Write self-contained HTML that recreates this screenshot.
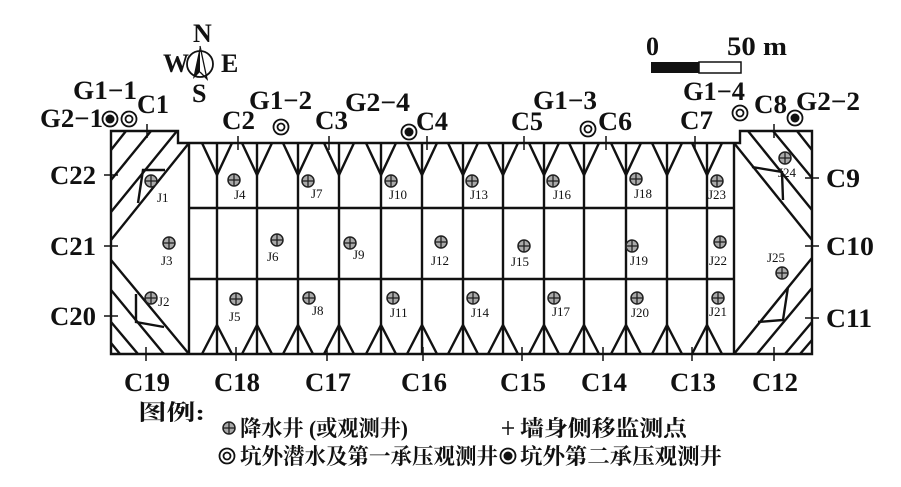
<!DOCTYPE html>
<html><head><meta charset="utf-8"><style>
html,body{margin:0;padding:0;background:#fff;}
svg{display:block;}
.t{font-family:"Liberation Serif",serif;font-weight:bold;font-size:26px;fill:#111;}
.j{font-family:"Liberation Serif",serif;font-size:13px;fill:#111;}
.cn{font-family:"Liberation Serif","Noto Serif CJK SC",serif;font-size:22px;font-weight:bold;fill:#111;}
</style></head><body>
<svg width="901" height="487" viewBox="0 0 901 487" xmlns="http://www.w3.org/2000/svg">
<defs>
<g id="jw"><circle r="6" fill="#aaa" stroke="#222" stroke-width="1.5"/><line x1="-6" y1="0" x2="6" y2="0" stroke="#222" stroke-width="1.3"/><line x1="0" y1="-6" x2="0" y2="6" stroke="#222" stroke-width="1.3"/></g>
<g id="g1"><circle r="7.5" fill="#fff" stroke="#111" stroke-width="1.8"/><circle r="3.5" fill="#fff" stroke="#111" stroke-width="1.8"/></g>
<g id="g2"><circle r="7.5" fill="#fff" stroke="#111" stroke-width="1.8"/><circle r="4.5" fill="#111"/></g>
<g id="ch"><line x1="-4" y1="0" x2="4" y2="0" stroke="#111" stroke-width="1.5"/><line x1="0" y1="-7" x2="0" y2="7" stroke="#111" stroke-width="1.5"/></g>
<g id="cv"><line x1="-7" y1="0" x2="7" y2="0" stroke="#111" stroke-width="1.5"/><line x1="0" y1="-4" x2="0" y2="4" stroke="#111" stroke-width="1.5"/></g>
</defs>
<g stroke="#111" stroke-width="2.4" fill="none">
<path d="M111,131 H178 V143 H740 V131 H812 V354 H111 Z"/>
<line x1="189" y1="143" x2="189" y2="354"/>
<line x1="734" y1="143" x2="734" y2="354"/>
<line x1="189" y1="208" x2="734" y2="208"/>
<line x1="189" y1="279" x2="734" y2="279"/>
<g>
<line x1="217" y1="143" x2="217" y2="354"/><line x1="257" y1="143" x2="257" y2="354"/>
<line x1="298" y1="143" x2="298" y2="354"/><line x1="339" y1="143" x2="339" y2="354"/>
<line x1="381" y1="143" x2="381" y2="354"/><line x1="422" y1="143" x2="422" y2="354"/>
<line x1="463" y1="143" x2="463" y2="354"/><line x1="503" y1="143" x2="503" y2="354"/>
<line x1="544" y1="143" x2="544" y2="354"/><line x1="584" y1="143" x2="584" y2="354"/>
<line x1="626" y1="143" x2="626" y2="354"/><line x1="667" y1="143" x2="667" y2="354"/>
<line x1="707" y1="143" x2="707" y2="354"/>
</g>
<path d="M202,143 L217,175 L232,143 M242,143 L257,175 L272,143 M283,143 L298,175 L313,143 M324,143 L339,175 L354,143 M366,143 L381,175 L396,143 M407,143 L422,175 L437,143 M448,143 L463,175 L478,143 M488,143 L503,175 L518,143 M529,143 L544,175 L559,143 M569,143 L584,175 L599,143 M611,143 L626,175 L641,143 M652,143 L667,175 L682,143 M692,143 L707,175 L722,143"/>
<path d="M202,354 L217,325 L232,354 M242,354 L257,325 L272,354 M283,354 L298,325 L313,354 M324,354 L339,325 L354,354 M366,354 L381,325 L396,354 M407,354 L422,325 L437,354 M448,354 L463,325 L478,354 M488,354 L503,325 L518,354 M529,354 L544,325 L559,354 M569,354 L584,325 L599,354 M611,354 L626,325 L641,354 M652,354 L667,325 L682,354 M692,354 L707,325 L722,354"/>
<line x1="189" y1="143" x2="111" y2="240"/>
<line x1="111" y1="260" x2="189" y2="354"/>
<line x1="111" y1="150" x2="126" y2="131"/>
<line x1="111" y1="180" x2="151" y2="131"/>
<line x1="111" y1="212" x2="177" y2="131"/>
<line x1="111" y1="290" x2="164" y2="354"/>
<line x1="111" y1="322" x2="138" y2="354"/>
<line x1="111" y1="343" x2="120" y2="354"/>
<path d="M165,170 H143 L138,203"/>
<path d="M136,294 V322 L164,327"/>
<line x1="734" y1="143" x2="812" y2="240"/>
<line x1="734" y1="354" x2="812" y2="258"/>
<line x1="748" y1="131" x2="812" y2="210"/>
<line x1="773" y1="131" x2="812" y2="178"/>
<line x1="797" y1="131" x2="812" y2="150"/>
<line x1="757" y1="354" x2="812" y2="288"/>
<line x1="785" y1="354" x2="812" y2="322"/>
<line x1="800" y1="354" x2="812" y2="340"/>
<path d="M752,167 L782,172 L783,200"/>
<path d="M788,287 L783,320 L758,322"/>
</g>
<use href="#ch" x="147" y="131"/><use href="#ch" x="238" y="143"/><use href="#ch" x="329" y="143"/><use href="#ch" x="427" y="143"/>
<use href="#ch" x="524" y="143"/><use href="#ch" x="606" y="143"/><use href="#ch" x="695" y="143"/><use href="#ch" x="774" y="131"/>
<use href="#ch" x="146" y="354"/><use href="#ch" x="236" y="354"/><use href="#ch" x="327" y="354"/><use href="#ch" x="423" y="354"/>
<use href="#ch" x="522" y="354"/><use href="#ch" x="603" y="354"/><use href="#ch" x="692" y="354"/><use href="#ch" x="774" y="354"/>
<use href="#cv" x="111" y="175"/><use href="#cv" x="111" y="246"/><use href="#cv" x="111" y="316"/>
<use href="#cv" x="812" y="178"/><use href="#cv" x="812" y="246"/><use href="#cv" x="812" y="318"/>
<g class="t">
<text x="137" y="113" textLength="32" lengthAdjust="spacingAndGlyphs">C1</text>
<text x="222" y="129" textLength="33" lengthAdjust="spacingAndGlyphs">C2</text>
<text x="315" y="129" textLength="33" lengthAdjust="spacingAndGlyphs">C3</text>
<text x="416" y="130" textLength="32" lengthAdjust="spacingAndGlyphs">C4</text>
<text x="511" y="130" textLength="32" lengthAdjust="spacingAndGlyphs">C5</text>
<text x="598" y="130" textLength="34" lengthAdjust="spacingAndGlyphs">C6</text>
<text x="680" y="129" textLength="33" lengthAdjust="spacingAndGlyphs">C7</text>
<text x="754" y="113" textLength="33" lengthAdjust="spacingAndGlyphs">C8</text>
<text x="826" y="187" textLength="34" lengthAdjust="spacingAndGlyphs">C9</text>
<text x="826" y="255" textLength="48" lengthAdjust="spacingAndGlyphs">C10</text>
<text x="826" y="327" textLength="46" lengthAdjust="spacingAndGlyphs">C11</text>
<text x="50" y="184" textLength="46" lengthAdjust="spacingAndGlyphs">C22</text>
<text x="50" y="255" textLength="46" lengthAdjust="spacingAndGlyphs">C21</text>
<text x="50" y="325" textLength="46" lengthAdjust="spacingAndGlyphs">C20</text>
<text x="124" y="391" textLength="46" lengthAdjust="spacingAndGlyphs">C19</text>
<text x="214" y="391" textLength="46" lengthAdjust="spacingAndGlyphs">C18</text>
<text x="305" y="391" textLength="46" lengthAdjust="spacingAndGlyphs">C17</text>
<text x="401" y="391" textLength="46" lengthAdjust="spacingAndGlyphs">C16</text>
<text x="500" y="391" textLength="46" lengthAdjust="spacingAndGlyphs">C15</text>
<text x="581" y="391" textLength="46" lengthAdjust="spacingAndGlyphs">C14</text>
<text x="670" y="391" textLength="46" lengthAdjust="spacingAndGlyphs">C13</text>
<text x="752" y="391" textLength="46" lengthAdjust="spacingAndGlyphs">C12</text>
<text x="40" y="127" textLength="63" lengthAdjust="spacingAndGlyphs">G2−1</text>
<text x="73" y="99" textLength="64" lengthAdjust="spacingAndGlyphs">G1−1</text>
<text x="249" y="109" textLength="63" lengthAdjust="spacingAndGlyphs">G1−2</text>
<text x="345" y="111" textLength="65" lengthAdjust="spacingAndGlyphs">G2−4</text>
<text x="533" y="109" textLength="64" lengthAdjust="spacingAndGlyphs">G1−3</text>
<text x="683" y="100" textLength="62" lengthAdjust="spacingAndGlyphs">G1−4</text>
<text x="796" y="110" textLength="64" lengthAdjust="spacingAndGlyphs">G2−2</text>
</g>
<use href="#g2" x="110" y="119"/><use href="#g1" x="129" y="119"/><use href="#g1" x="281" y="127"/>
<use href="#g2" x="409" y="132"/><use href="#g1" x="588" y="129"/><use href="#g1" x="740" y="113"/><use href="#g2" x="795" y="118"/>
<use href="#jw" x="151" y="181"/><use href="#jw" x="151" y="298"/><use href="#jw" x="169" y="243"/>
<use href="#jw" x="234" y="180"/><use href="#jw" x="236" y="299"/><use href="#jw" x="277" y="240"/>
<use href="#jw" x="308" y="181"/><use href="#jw" x="309" y="298"/><use href="#jw" x="350" y="243"/>
<use href="#jw" x="391" y="181"/><use href="#jw" x="393" y="298"/><use href="#jw" x="441" y="242"/>
<use href="#jw" x="472" y="181"/><use href="#jw" x="473" y="298"/><use href="#jw" x="524" y="246"/>
<use href="#jw" x="553" y="181"/><use href="#jw" x="554" y="298"/><use href="#jw" x="636" y="179"/>
<use href="#jw" x="632" y="246"/><use href="#jw" x="637" y="298"/><use href="#jw" x="718" y="298"/>
<use href="#jw" x="720" y="242"/><use href="#jw" x="717" y="181"/><use href="#jw" x="785" y="158"/><use href="#jw" x="782" y="273"/>
<g class="j">
<text x="157" y="202">J1</text><text x="158" y="306">J2</text><text x="161" y="265">J3</text>
<text x="234" y="199">J4</text><text x="229" y="321">J5</text><text x="267" y="261">J6</text>
<text x="311" y="198">J7</text><text x="312" y="315">J8</text><text x="353" y="259">J9</text>
<text x="389" y="199">J10</text><text x="390" y="317">J11</text><text x="431" y="265">J12</text>
<text x="470" y="199">J13</text><text x="471" y="317">J14</text><text x="511" y="266">J15</text>
<text x="553" y="199">J16</text><text x="552" y="316">J17</text><text x="634" y="198">J18</text>
<text x="630" y="265">J19</text><text x="631" y="317">J20</text><text x="709" y="316">J21</text>
<text x="709" y="265">J22</text><text x="708" y="199">J23</text><text x="778" y="177">J24</text><text x="767" y="262">J25</text>
</g>
<g>
<text x="193" y="42" class="t" font-size="19">N</text>
<text x="163" y="72" class="t" font-size="19">W</text>
<text x="221" y="72" class="t" font-size="19">E</text>
<text x="192" y="102" class="t" font-size="19">S</text>
<circle cx="200" cy="64" r="13" fill="none" stroke="#111" stroke-width="1.8"/>
<path d="M200,46 L193,79 L200,72 Z" fill="#111"/>
<path d="M200,46 L207,79 L200,72" fill="none" stroke="#111" stroke-width="1.3"/>
</g>
<text x="646" y="55" class="t" font-size="24">0</text>
<text x="727" y="55" class="t" font-size="24" textLength="60" lengthAdjust="spacingAndGlyphs">50 m</text>
<rect x="651" y="62" width="48" height="11" fill="#111"/>
<rect x="699" y="62" width="42" height="11" fill="#fff" stroke="#111" stroke-width="1.5"/>
<text x="138" y="420" class="cn" font-size="27" textLength="67" lengthAdjust="spacingAndGlyphs">图例:</text>
<use href="#jw" x="229" y="428"/>
<text x="240" y="436" class="cn" textLength="168" lengthAdjust="spacingAndGlyphs">降水井 (或观测井)</text>
<g transform="translate(508,428)"><line x1="-6" y1="0" x2="6" y2="0" stroke="#111" stroke-width="1.5"/><line x1="0" y1="-7" x2="0" y2="7" stroke="#111" stroke-width="1.5"/></g>
<text x="520" y="436" class="cn" textLength="167" lengthAdjust="spacingAndGlyphs">墙身侧移监测点</text>
<use href="#g1" x="227" y="456"/>
<text x="240" y="464" class="cn" textLength="258" lengthAdjust="spacingAndGlyphs">坑外潜水及第一承压观测井</text>
<use href="#g2" x="508" y="456"/>
<text x="520" y="464" class="cn" textLength="202" lengthAdjust="spacingAndGlyphs">坑外第二承压观测井</text>
</svg>
</body></html>
